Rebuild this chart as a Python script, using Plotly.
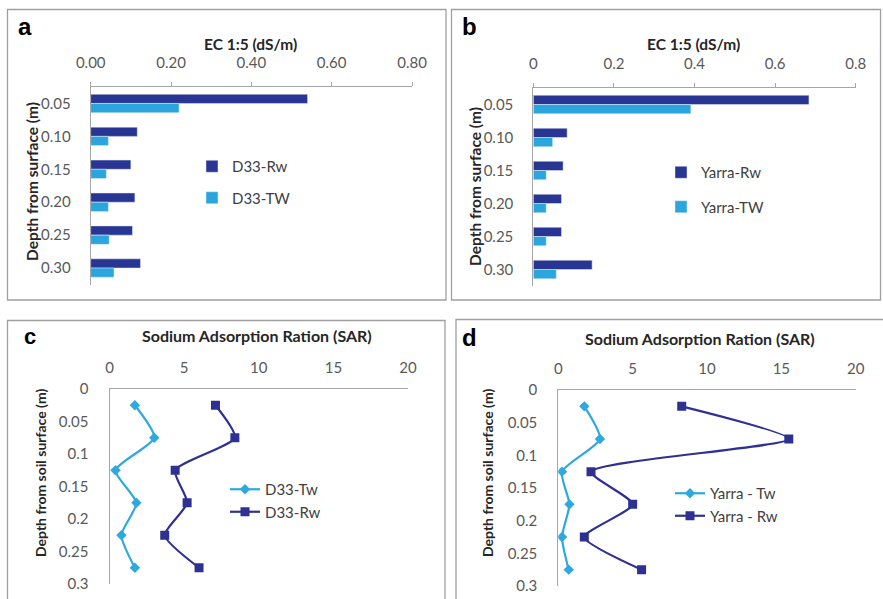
import plotly.graph_objects as go

W, H = 883, 599

# ---- data -------------------------------------------------------------
depth_labels = ["0.05", "0.10", "0.15", "0.20", "0.25", "0.30"]

ec_d33_rw = [0.54, 0.116, 0.10, 0.11, 0.104, 0.124]
ec_d33_tw = [0.22, 0.044, 0.039, 0.044, 0.046, 0.058]

ec_yarra_rw = [0.684, 0.084, 0.074, 0.070, 0.070, 0.146]
ec_yarra_tw = [0.391, 0.048, 0.032, 0.032, 0.032, 0.057]

sar_depth = [0.025, 0.075, 0.125, 0.175, 0.225, 0.275]
sar_d33_tw = [1.7, 3.0, 0.4, 1.8, 0.8, 1.7]
sar_d33_rw = [7.1, 8.4, 4.4, 5.2, 3.7, 6.0]
sar_yarra_tw = [1.75, 2.8, 0.25, 0.75, 0.25, 0.7]
sar_yarra_rw = [8.3, 15.5, 2.2, 5.0, 1.75, 5.6]

ec_ticks = [0, 0.2, 0.4, 0.6, 0.8]
sar_ticks = [0, 5, 10, 15, 20]
sar_depth_ticks = [0, 0.05, 0.1, 0.15, 0.2, 0.25, 0.3]

# ---- styling ----------------------------------------------------------
FONT = "Lato, 'Open Sans', sans-serif"
DARK = "#283593"
LIGHT = "#2AA5DD"
LINE_DARK = "#2E3191"
LINE_LIGHT = "#2EA9DF"
AXIS_GREY = "#A6A6A6"
TICK_GREY = "#595959"
BORDER = "#A0A0A0"


def px_x(x):
    return x / W


def px_y(y):
    return 1 - y / H


fig = go.Figure()

# ---- panel a / b : EC bars -------------------------------------------
fig.add_trace(go.Bar(y=depth_labels, x=ec_d33_rw, orientation="h", name="D33-Rw",
                     marker_color=DARK, xaxis="x", yaxis="y", legend="legend",
                     legendgroup="a1"))
fig.add_trace(go.Bar(y=depth_labels, x=ec_d33_tw, orientation="h", name="D33-TW",
                     marker_color=LIGHT, xaxis="x", yaxis="y", legend="legend",
                     legendgroup="a2"))
fig.add_trace(go.Bar(y=depth_labels, x=ec_yarra_rw, orientation="h", name="Yarra-Rw",
                     marker_color=DARK, xaxis="x2", yaxis="y2", legend="legend2",
                     legendgroup="b1"))
fig.add_trace(go.Bar(y=depth_labels, x=ec_yarra_tw, orientation="h", name="Yarra-TW",
                     marker_color=LIGHT, xaxis="x2", yaxis="y2", legend="legend2",
                     legendgroup="b2"))


# ---- panel c / d : SAR profiles ---------------------------------------
def sar_trace(x, name, light, xa, ya, leg):
    return go.Scatter(
        x=x, y=sar_depth, name=name, mode="lines+markers",
        line=dict(color=LINE_LIGHT if light else LINE_DARK, width=2.2, shape="spline",
                  smoothing=0.6),
        marker=dict(symbol="diamond" if light else "square",
                    size=8 if light else 9,
                    color=LINE_LIGHT if light else LINE_DARK),
        xaxis=xa, yaxis=ya, legend=leg)


fig.add_trace(sar_trace(sar_d33_tw, "D33-Tw", True, "x3", "y3", "legend3"))
fig.add_trace(sar_trace(sar_d33_rw, "D33-Rw", False, "x3", "y3", "legend3"))
fig.add_trace(sar_trace(sar_yarra_tw, "Yarra - Tw", True, "x4", "y4", "legend4"))
fig.add_trace(sar_trace(sar_yarra_rw, "Yarra - Rw", False, "x4", "y4", "legend4"))

tick_font = dict(family=FONT, size=15, color=TICK_GREY)


def ec_xaxis(x0, x1, fmt):
    return dict(domain=[px_x(x0), px_x(x1)], range=[0, 0.8], side="top",
                tickvals=ec_ticks, tickformat=fmt, showgrid=False, zeroline=False,
                showline=True, linecolor=AXIS_GREY, linewidth=1,
                ticks="outside", ticklen=4, tickcolor=AXIS_GREY,
                tickfont=tick_font, ticklabelstandoff=8, fixedrange=True)


def ec_yaxis(y_top, y_bot, xa):
    return dict(domain=[px_y(y_bot), px_y(y_top)], autorange="reversed",
                type="category", showgrid=False, zeroline=False,
                showline=True, linecolor=AXIS_GREY, linewidth=1, ticks="",
                tickfont=tick_font, ticklabelstandoff=16, anchor=xa, fixedrange=True)


def sar_xaxis(x0, x1):
    return dict(domain=[px_x(x0), px_x(x1)], range=[0, 20], side="top",
                tickvals=sar_ticks, showgrid=False, zeroline=False,
                showline=True, linecolor=AXIS_GREY, linewidth=1, ticks="",
                tickfont=tick_font, ticklabelstandoff=9, fixedrange=True)


def sar_yaxis(y_top, y_bot, xa):
    return dict(domain=[px_y(y_bot), px_y(y_top)], range=[0.3, 0],
                tickvals=sar_depth_ticks, showgrid=False, zeroline=False,
                showline=True, linecolor=AXIS_GREY, linewidth=1, ticks="",
                tickfont=tick_font, ticklabelstandoff=17, anchor=xa, fixedrange=True)


fig.update_layout(
    xaxis=dict(ec_xaxis(90.7, 412, ".2f"), anchor="y"),
    yaxis=ec_yaxis(87, 284.5, "x"),
    xaxis2=dict(ec_xaxis(533.3, 855.7, ""), anchor="y2"),
    yaxis2=ec_yaxis(88, 286, "x2"),
    xaxis3=dict(sar_xaxis(109.5, 408), anchor="y3"),
    yaxis3=sar_yaxis(389, 584, "x3"),
    xaxis4=dict(sar_xaxis(558.3, 855.7), anchor="y4"),
    yaxis4=sar_yaxis(390, 586, "x4"),
    barmode="group", bargap=0.44, bargroupgap=0,
)

legend_common = dict(bgcolor="rgba(0,0,0,0)", borderwidth=0, xanchor="left",
                     yanchor="top", font=dict(family=FONT, size=15, color="#404040"))
fig.update_layout(
    legend=dict(legend_common, x=px_x(192), y=px_y(150), tracegroupgap=9),
    legend2=dict(legend_common, x=px_x(661), y=px_y(156), tracegroupgap=12),
    legend3=dict(legend_common, x=px_x(225), y=px_y(473), tracegroupgap=2),
    legend4=dict(legend_common, x=px_x(670), y=px_y(477), tracegroupgap=0),
)

# ---- panel frames -----------------------------------------------------
frames = [(7.5, 9.5, 446, 300), (451.5, 9.5, 880.5, 300),
          (7.5, 320.5, 445, 640), (456, 319.5, 920, 640)]
for x0, y0, x1, y1 in frames:
    fig.add_shape(type="rect", xref="paper", yref="paper",
                  x0=px_x(x0), x1=px_x(x1), y0=px_y(y1), y1=px_y(y0),
                  line=dict(color=BORDER, width=1.3), fillcolor="rgba(0,0,0,0)")

# ---- panel letters and axis titles -------------------------------------
letter_font = dict(family="Liberation Sans, Arial", size=24, color="black")
ec_title_font = dict(family=FONT, size=15.5, color="#262626")
sar_title_font = dict(family=FONT, size=16, color="#262626")
depth_a_font = dict(family=FONT, size=15.5, color="#262626")
depth_c_font = dict(family=FONT, size=14, color="#262626")
annos = [
    ("a", 25, 26, 0, letter_font),
    ("b", 470, 26, 0, letter_font),
    ("c", 30, 336, 0, dict(letter_font, size=22)),
    ("d", 470, 337, 0, letter_font),
    ("EC 1:5 (dS/m)", 250, 44, 0, ec_title_font),
    ("EC 1:5 (dS/m)", 693, 44, 0, ec_title_font),
    ("Sodium Adsorption Ration (SAR)", 257, 335, 0, sar_title_font),
    ("Sodium Adsorption Ration (SAR)", 700, 338, 0, sar_title_font),
    ("Depth from surface (m)", 32, 182, -90, depth_a_font),
    ("Depth from surface (m)", 475, 186, -90, depth_a_font),
    ("Depth from soil surface (m)", 40, 473, -90, depth_c_font),
    ("Depth from soil surface (m)", 487, 473, -90, depth_c_font),
]
for text, x, y, ang, f in annos:
    fig.add_annotation(text="<b>%s</b>" % text, x=px_x(x), y=px_y(y), xref="paper",
                       yref="paper", showarrow=False, textangle=ang, font=f,
                       xanchor="center", yanchor="middle")

fig.update_layout(width=W, height=H,
                  margin=dict(l=0, r=0, t=0, b=0, pad=0, autoexpand=False),
                  paper_bgcolor="white", plot_bgcolor="white", autosize=False)

fig.write_html("out.html", config={"displayModeBar": False})
